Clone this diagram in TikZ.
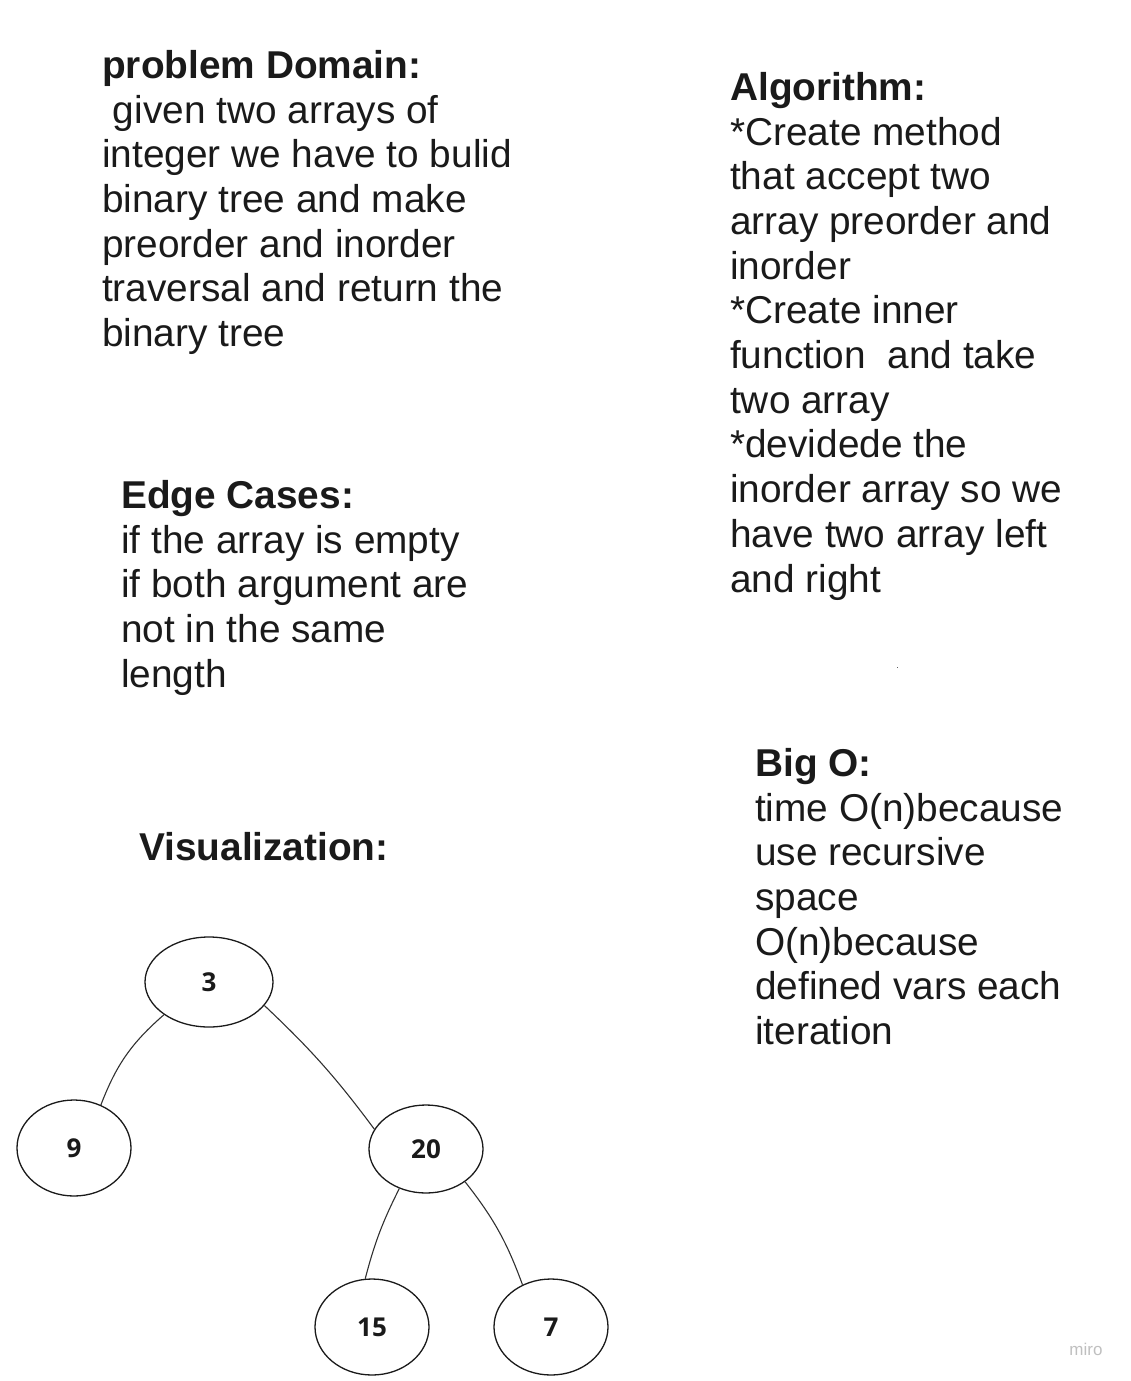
\documentclass[tikz,border=0pt]{standalone}
\usepackage{fontspec}
\setmainfont{Liberation Sans}
\newfontfamily\treefont{Open Sans}
\usetikzlibrary{shapes.geometric}
\definecolor{ink}{HTML}{1A1A1A}

\begin{document}
\begin{tikzpicture}[x=1pt,y=-1pt]
            \useasboundingbox (0,0) rectangle (1131,1381);
            \begin{scope}[every node/.style={anchor=north west,inner sep=0pt,align=left,text=ink,font=\fontsize{38.8}{44.7}\selectfont}]
                \node (domain) at (102,50) {\textbf{problem Domain:}\\\ given two arrays of\\integer we have to bulid\\binary tree and make\\preorder and inorder\\traversal and return the\\binary tree};
                \node (algo) at (730,72) {\textbf{Algorithm:}\\*Create method\\that accept two\\array preorder and\\inorder\\*Create inner\\function\ \ and take\\two array\\*devidede the\\inorder array so we\\have two array left\\and right};
                \node (edgecases) at (121,480) {\textbf{Edge Cases:}\\if the array is empty\\if both argument are\\not in the same\\length};
                \node (viz) at (139,832) {\textbf{Visualization:}};
                \node (bigo) at (755,748) {\textbf{Big O:}\\time O(n)because\\use recursive\\space\\O(n)because\\defined vars each\\iteration};
            \end{scope}
            \begin{scope}[every node/.style={ellipse,draw=ink,line width=1.3pt,inner sep=0pt,minimum width=114pt,minimum height=96pt,text=ink,font=\treefont\bfseries\fontsize{26}{30}\selectfont}]
                \node (r) at (209,982) [minimum width=128pt,minimum height=90pt] {3};
                \node (v9) at (74,1148) {9};
                \node (v20) at (426,1149) [minimum height=88pt] {20};
                \node (v15) at (372,1327) {15};
                \node (v7) at (551,1327) {7};
            \end{scope}
            \draw[ink!90,line width=1.1pt] (r.216) edge [bend right=14] (v9.58);
            \draw[ink!90,line width=1.1pt] (r.-23) edge [bend left=5] (v20.159);
            \draw[ink!90,line width=1.1pt] (v20.236) edge [bend right=6] (v15.98);
            \draw[ink!90,line width=1.1pt] (v20.320) edge [bend left=9] (v7.124);
            \fill[ink!70] (896.5,666.5) rectangle ++(1.5,1.5);
            \node (miro) at (1086,1349) [text=black!25,font=\fontsize{17}{20}\selectfont] {miro};
        \end{tikzpicture}
\end{document}
